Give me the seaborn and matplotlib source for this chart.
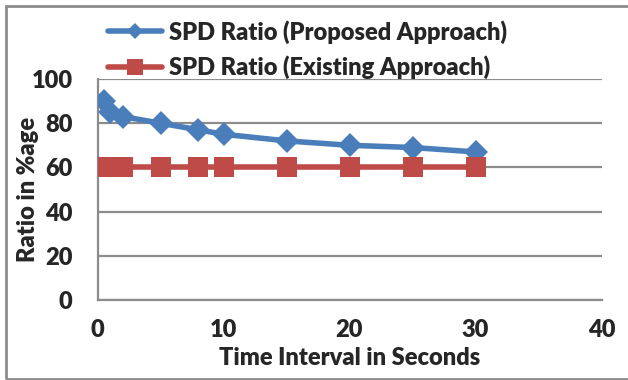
import matplotlib
matplotlib.use("Agg")
import matplotlib.pyplot as plt
from matplotlib.lines import Line2D
from matplotlib.patches import Rectangle
import seaborn as sns
import pandas as pd

time_s = [0.5, 1, 2, 5, 8, 10, 15, 20, 25, 30]
proposed = [90, 85, 83, 80, 77, 75, 72, 70, 69, 67]
existing = [60, 60, 60, 60, 60, 60, 60, 60, 60, 60]
series_names = ["SPD Ratio (Proposed Approach)", "SPD Ratio (Existing Approach)"]
x_ticks = [0, 10, 20, 30, 40]
y_ticks = [0, 20, 40, 60, 80, 100]

BLUE = "#4A7EBB"
RED = "#BE4B48"
GRID = "#8C8C8C"
FS = 17
WEIGHT = "heavy"

sns.set_style("white")
plt.rcParams["font.family"] = ["Lato", "DejaVu Sans"]

fig = plt.figure(figsize=(6.28, 3.8), dpi=100)
ax = fig.add_axes([97.5 / 628, 1 - 300 / 380, (601.5 - 97.5) / 628, (300 - 79) / 380])

df = pd.DataFrame({
    "t": time_s * 2,
    "v": proposed + existing,
    "s": [series_names[0]] * len(time_s) + [series_names[1]] * len(time_s),
})

sns.lineplot(data=df[df.s == series_names[0]], x="t", y="v", ax=ax, color=BLUE,
             lw=4, marker="D", markersize=12, markeredgewidth=0, legend=False,
             sort=False, zorder=3)
sns.lineplot(data=df[df.s == series_names[1]], x="t", y="v", ax=ax, color=RED,
             lw=4, marker="s", markersize=14, markeredgewidth=0, legend=False,
             sort=False, zorder=3)

ax.set_xlim(0, 40)
ax.set_ylim(0, 100)
ax.set_xticks(x_ticks)
ax.set_yticks(y_ticks)
ax.yaxis.grid(True, color=GRID, lw=1.6)
ax.xaxis.grid(False)
for side in ["top", "right"]:
    ax.spines[side].set_visible(False)
for side in ["left", "bottom"]:
    ax.spines[side].set_color(GRID)
    ax.spines[side].set_linewidth(1.6)
ax.tick_params(axis="x", length=0, labelsize=FS, pad=14)
ax.tick_params(axis="y", length=0, labelsize=FS, pad=18)
for lbl in ax.get_xticklabels() + ax.get_yticklabels():
    lbl.set_fontweight(WEIGHT)
ax.set_xlabel("Time Interval in Seconds", fontsize=FS, fontweight=WEIGHT, va="center")
ax.set_ylabel("Ratio in %age", fontsize=FS, fontweight=WEIGHT, va="center")
ax.xaxis.set_label_coords(0.5, (300 - 358) / 221)
ax.yaxis.set_label_coords((28 - 97.5) / 504, 0.5)

handles = [
    Line2D([], [], color=BLUE, lw=4, marker="D", markersize=8, markeredgewidth=0),
    Line2D([], [], color=RED, lw=4, marker="s", markersize=11, markeredgewidth=0),
]
fig.legend(handles, series_names, loc="upper left", bbox_to_anchor=(108 / 628, 1 - 20 / 380),
           frameon=False, handlelength=2.3, handletextpad=0.3, labelspacing=0.5,
           prop={"size": FS, "weight": WEIGHT}, borderaxespad=0, borderpad=0)

fig.patches.append(Rectangle((6 / 628, 1 / 380), 1.0, 1 - 6.5 / 380, transform=fig.transFigure,
                             fill=False, edgecolor=GRID, lw=2))

fig.savefig("out.png", dpi=100)
